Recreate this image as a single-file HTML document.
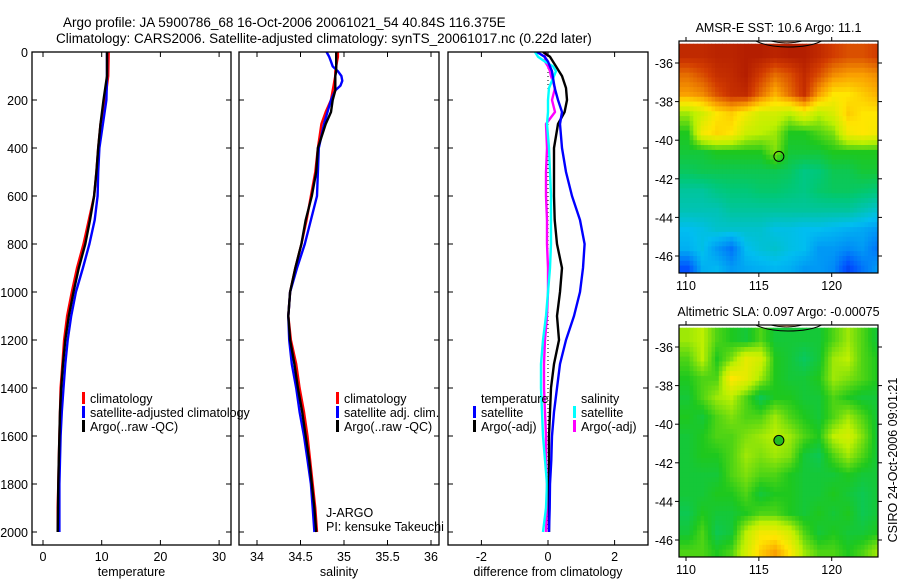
<!DOCTYPE html>
<html><head><meta charset="utf-8">
<style>
html,body{margin:0;padding:0;background:#fff;}
svg{display:block;font-family:"Liberation Sans",sans-serif;}
</style></head>
<body>
<svg id="fig" width="900" height="580" viewBox="0 0 900 580" xmlns="http://www.w3.org/2000/svg">
<text x="63" y="27" font-size="13.5">Argo profile: JA 5900786_68 16-Oct-2006 20061021_54 40.84S 116.375E</text>
<text x="56" y="43" font-size="13.5">Climatology: CARS2006. Satellite-adjusted climatology: synTS_20061017.nc (0.22d later)</text>
<g id="g1"></g>
<g id="g2"></g>
<g id="g3"></g>
<g id="m1"></g>
<g id="m2"></g>
<text transform="translate(897,460) rotate(-90)" text-anchor="middle" font-size="12.5">CSIRO 24-Oct-2006 09:01:21</text>
</svg>
<script>
// ---------- data ----------
const tDepth = [0,100,200,300,400,500,600,700,800,900,1000,1100,1200,1300,1400,1500,1600,1700,1800,1900,2000];
const tClim  = [11.2,11.1,10.6,9.8,9.4,9.1,8.7,7.8,6.9,5.8,4.9,4.1,3.6,3.3,3.0,2.9,2.8,2.7,2.6,2.5,2.5];
const tSat   = [10.9,10.9,10.8,10.2,9.6,9.4,9.3,8.8,7.9,6.8,5.6,4.8,4.2,3.8,3.5,3.2,3.0,2.9,2.8,2.8,2.8];
const tArgo  = [10.9,10.9,10.3,9.8,9.4,9.1,8.7,8.0,7.2,6.1,5.2,4.4,3.8,3.4,3.1,2.9,2.8,2.7,2.6,2.55,2.5];

const sDepth = [0,20,40,60,80,100,120,140,160,200,250,300,400,500,600,700,800,900,1000,1100,1200,1300,1400,1500,1600,1700,1800,1900,2000];
const sClim  = [34.93,34.93,34.92,34.91,34.9,34.9,34.89,34.88,34.87,34.85,34.79,34.74,34.70,34.67,34.62,34.57,34.51,34.44,34.38,34.36,34.39,34.45,34.49,34.54,34.58,34.61,34.64,34.67,34.69];
const sSat   = [34.80,34.83,34.85,34.87,34.93,34.97,34.98,34.96,34.90,34.85,34.81,34.77,34.71,34.70,34.69,34.62,34.55,34.46,34.38,34.36,34.37,34.40,34.45,34.49,34.54,34.58,34.62,34.64,34.66];
const sArgo  = [34.91,34.91,34.91,34.91,34.91,34.90,34.90,34.90,34.90,34.87,34.85,34.79,34.70,34.68,34.63,34.56,34.51,34.44,34.38,34.36,34.38,34.43,34.47,34.52,34.56,34.60,34.63,34.66,34.68];

const dDepth   = [0,20,40,60,80,100,150,200,250,300,400,500,600,700,800,900,1000,1100,1200,1300,1400,1500,1600,1700,1800,1900,2000];
const dTempSat = [-0.33,-0.1,0,0.06,0.12,0.14,0.2,0.3,0.42,0.36,0.42,0.54,0.72,0.96,1.1,1.05,0.96,0.78,0.54,0.36,0.27,0.18,0.12,0.1,0.06,0.05,0.03];
const dTempArgo= [-0.15,0.06,0.15,0.24,0.33,0.42,0.54,0.57,0.5,0.3,0.18,0.18,0.18,0.2,0.27,0.42,0.36,0.27,0.33,0.18,0.09,0.06,0.03,0.03,0.03,0.03,0.03];
const dSalSat  = [-0.39,-0.3,-0.09,0.15,0.24,0.18,0.03,0,0,-0.03,0.03,0.06,0.09,0.09,0.09,0.06,0,-0.06,-0.15,-0.21,-0.21,-0.18,-0.15,-0.09,-0.03,-0.06,-0.15];
const dSalArgo = [-0.06,-0.09,-0.09,0,0.06,0.09,0.21,0.12,0.21,-0.06,-0.03,-0.06,-0.06,-0.03,-0.03,0,0,-0.03,-0.09,-0.12,-0.12,-0.09,-0.06,-0.06,-0.03,-0.03,-0.06];

const depthTicks = [0,200,400,600,800,1000,1200,1400,1600,1800,2000];
const tempTicks = [0,10,20,30];
const salTicks = [34,34.5,35,35.5,36];
const diffTicks = [-2,0,2];
const lonTicks = [110,115,120];
const latTicks = [-36,-38,-40,-42,-44,-46];

const sstGrid = [
[0.93,0.93,0.94,0.94,0.95,0.95,0.94,0.95,0.95,0.93,0.9,0.88,0.88,0.9],
[0.85,0.88,0.92,0.93,0.95,0.9,0.85,0.88,0.93,0.88,0.82,0.8,0.8,0.82],
[0.8,0.82,0.88,0.92,0.93,0.85,0.78,0.85,0.92,0.8,0.72,0.72,0.75,0.78],
[0.6,0.65,0.72,0.75,0.7,0.65,0.65,0.62,0.68,0.62,0.66,0.75,0.72,0.72],
[0.52,0.7,0.74,0.72,0.64,0.62,0.6,0.52,0.52,0.55,0.58,0.7,0.72,0.7],
[0.5,0.5,0.52,0.52,0.52,0.52,0.58,0.5,0.5,0.5,0.52,0.52,0.52,0.52],
[0.47,0.48,0.48,0.48,0.48,0.48,0.48,0.47,0.44,0.45,0.48,0.48,0.5,0.5],
[0.42,0.42,0.44,0.45,0.45,0.46,0.46,0.45,0.44,0.46,0.47,0.47,0.46,0.45],
[0.4,0.4,0.4,0.42,0.42,0.42,0.42,0.42,0.42,0.42,0.42,0.42,0.4,0.38],
[0.35,0.36,0.38,0.38,0.38,0.38,0.36,0.36,0.35,0.35,0.34,0.33,0.32,0.3],
[0.33,0.36,0.3,0.25,0.35,0.37,0.38,0.36,0.35,0.3,0.3,0.28,0.3,0.25],
[0.2,0.33,0.34,0.3,0.32,0.33,0.34,0.33,0.3,0.3,0.28,0.18,0.25,0.3]];
const slaGrid = [
[0.6,0.62,0.55,0.52,0.5,0.55,0.5,0.5,0.5,0.5,0.55,0.6,0.55,0.5],
[0.55,0.62,0.52,0.58,0.68,0.65,0.52,0.5,0.47,0.5,0.6,0.62,0.55,0.52],
[0.52,0.55,0.55,0.72,0.68,0.6,0.52,0.5,0.5,0.52,0.6,0.58,0.55,0.52],
[0.5,0.55,0.6,0.62,0.55,0.48,0.52,0.52,0.5,0.5,0.55,0.52,0.5,0.5],
[0.52,0.5,0.55,0.58,0.55,0.55,0.6,0.55,0.52,0.5,0.55,0.6,0.55,0.5],
[0.5,0.52,0.55,0.55,0.58,0.6,0.62,0.6,0.55,0.52,0.62,0.65,0.58,0.5],
[0.5,0.52,0.52,0.55,0.6,0.58,0.6,0.58,0.5,0.48,0.55,0.6,0.55,0.5],
[0.5,0.5,0.5,0.55,0.58,0.55,0.55,0.52,0.5,0.5,0.5,0.52,0.5,0.5],
[0.5,0.5,0.52,0.52,0.55,0.5,0.52,0.52,0.5,0.5,0.52,0.5,0.48,0.5],
[0.48,0.52,0.5,0.5,0.52,0.55,0.55,0.52,0.5,0.52,0.5,0.52,0.48,0.5],
[0.5,0.55,0.48,0.5,0.62,0.7,0.7,0.65,0.55,0.5,0.52,0.5,0.5,0.52],
[0.55,0.55,0.52,0.55,0.65,0.75,0.8,0.72,0.6,0.55,0.55,0.52,0.55,0.6]];
const argoLon = 116.375, argoLat = -40.84;

// ---------- helpers ----------
const NS='http://www.w3.org/2000/svg';
function mk(parent,tag,attrs){const e=document.createElementNS(NS,tag);for(const k in attrs)e.setAttribute(k,attrs[k]);parent.appendChild(e);return e;}
function txt(parent,x,y,s,anchor,size){const t=mk(parent,'text',{x:x,y:y,'font-size':size||12.5,'text-anchor':anchor||'start'});t.textContent=s;return t;}
const Y0=52, Y1=545;
const yD = d => 52 + d*0.24;

function profilePanel(g,x0,x1,xs,ticks,tickFmt,label,series){
  const clip='c'+g.id;
  const cp=mk(g,'clipPath',{id:clip});mk(cp,'rect',{x:x0,y:Y0,width:x1-x0,height:Y1-Y0});
  series.forEach(s=>{
    const pts=s.v.map((v,i)=>xs(v).toFixed(1)+','+yD(s.depth[i]).toFixed(1)).join(' ');
    const p=mk(g,'polyline',{points:pts,fill:'none',stroke:s.c,'stroke-width':s.w||2.4,'stroke-linejoin':'round','clip-path':'url(#'+clip+')'});
    
    
  });
  const fr=mk(g,'rect',{x:x0,y:Y0,width:x1-x0,height:Y1-Y0,fill:'none',stroke:'#000','stroke-width':1.3});
  
  
  depthTicks.forEach(dv=>{const Yv=yD(dv);
    mk(g,'line',{x1:x0,x2:x0+5,y1:Yv,y2:Yv,stroke:'#000'});
    mk(g,'line',{x1:x1-5,x2:x1,y1:Yv,y2:Yv,stroke:'#000'});});
  ticks.forEach(tv=>{const X=xs(tv);
    mk(g,'line',{x1:X,x2:X,y1:Y0,y2:Y0+5,stroke:'#000'});
    mk(g,'line',{x1:X,x2:X,y1:Y1-5,y2:Y1,stroke:'#000'});
    const t=txt(g,X,561,tickFmt(tv),'middle');
    
    });
  const lb=txt(g,(x0+x1)/2,576,label,'middle');
  
  
}
function legend(g,x,y,entries){
  entries.forEach((e,i)=>{
    if(e.c){const r=mk(g,'rect',{x:x,y:y+i*14-11,width:3,height:12,fill:e.c});
      
      }
    const t=txt(g,x+8,y+i*14,e.t);
    
    
  });
}

const g1=document.getElementById('g1');
depthTicks.forEach(dv=>{const t=txt(g1,28,yD(dv)+5,String(dv),'end');
  
  });

const xT = v => 43 + v*5.87;
profilePanel(g1,32,231,xT,tempTicks,String,'temperature',[
  {v:tClim,depth:tDepth,c:'#ff0000',name:'temp-climatology-line'},
  {v:tSat,depth:tDepth,c:'#0000ff',name:'temp-satellite-line'},
  {v:tArgo,depth:tDepth,c:'#000000',name:'temp-argo-line'}]);
legend(g1,82,403,[{c:'#ff0000',t:'climatology'},{c:'#0000ff',t:'satellite-adjusted climatology'},{c:'#000',t:'Argo(..raw -QC)'}]);

const g2=document.getElementById('g2');
const xS = v => 257 + (v-34)*87;
profilePanel(g2,239,439,xS,salTicks,String,'salinity',[
  {v:sClim,depth:sDepth,c:'#ff0000',name:'sal-climatology-line'},
  {v:sSat,depth:sDepth,c:'#0000ff',name:'sal-satellite-line'},
  {v:sArgo,depth:sDepth,c:'#000000',name:'sal-argo-line'}]);
legend(g2,336,403,[{c:'#ff0000',t:'climatology'},{c:'#0000ff',t:'satellite adj. clim.'},{c:'#000',t:'Argo(..raw -QC)'}]);
let t1=txt(g2,326,517,'J-ARGO');
let t2=txt(g2,326,531,'PI: kensuke Takeuchi');

const g3=document.getElementById('g3');
const xDf = v => 548 + v*33.3;
const zl=mk(g3,'line',{x1:xDf(0),x2:xDf(0),y1:yD(0),y2:yD(2000),stroke:'#000','stroke-dasharray':'1 3'});


profilePanel(g3,448,648,xDf,diffTicks,String,'difference from climatology',[
  {v:dSalArgo,depth:dDepth,c:'#ff00ff',name:'sal-argo-diff-line'},
  {v:dSalSat,depth:dDepth,c:'#00ffff',name:'sal-satellite-diff-line'},
  {v:dTempArgo,depth:dDepth,c:'#000000',name:'temp-argo-diff-line'},
  {v:dTempSat,depth:dDepth,c:'#0000ff',name:'temp-satellite-diff-line'}]);
legend(g3,473,403,[{t:'temperature'},{c:'#0000ff',t:'satellite'},{c:'#000',t:'Argo(-adj)'}]);
legend(g3,573,403,[{t:'salinity'},{c:'#00ffff',t:'satellite'},{c:'#ff00ff',t:'Argo(-adj)'}]);

// ---------- maps ----------
function cmap(v){
  const stops=[[0,[0,0,140]],[0.2,[0,80,255]],[0.35,[0,190,240]],[0.45,[0,200,120]],[0.52,[30,200,30]],[0.62,[190,240,0]],[0.72,[255,230,0]],[0.8,[250,160,0]],[0.9,[210,60,0]],[1,[150,0,0]]];
  for(let i=1;i<stops.length;i++){if(v<=stops[i][0]){const a=stops[i-1],b=stops[i],f=(v-a[0])/(b[0]-a[0]);
    return 'rgb('+a[1].map((c,k)=>Math.round(c+(b[1][k]-c)*f)).join(',')+')';}}
  return 'rgb(150,0,0)';
}
function sample(grid,r,c){
  const R=grid.length,C=grid[0].length;
  r=Math.max(0,Math.min(R-1,r));c=Math.max(0,Math.min(C-1,c));
  const r0=Math.floor(r),c0=Math.floor(c),r1=Math.min(R-1,r0+1),c1=Math.min(C-1,c0+1),fr=r-r0,fc=c-c0;
  return grid[r0][c0]*(1-fr)*(1-fc)+grid[r0][c1]*(1-fr)*fc+grid[r1][c0]*fr*(1-fc)+grid[r1][c1]*fr*fc;
}
function mapPanel(id,top,bot,latRef,title,grid){
  const g=document.getElementById(id);
  const x0=679,x1=878;
  const lonX = lo => 686 + (lo-110)*14.57;
  const latY = la => latRef + (-36-la)*19.3;
  const cp=mk(g,'clipPath',{id:'c'+id});mk(cp,'rect',{x:x0,y:top,width:x1-x0,height:bot-top});
  const cg=mk(g,'g',{'clip-path':'url(#c'+id+')'});
  const step=0.25;
  for(let la=-35;la>-47.2;la-=step){
    for(let lo=109.5;lo<123.3;lo+=step){
      const r=(-35-la)-0.5, c=(lo-109.5)-0.5;
      const v=sample(grid,r,c);
      const rc=mk(cg,'rect',{x:lonX(lo).toFixed(1),y:latY(la).toFixed(1),width:(14.57*step+0.5).toFixed(2),height:(19.3*step+0.5).toFixed(2),fill:cmap(v)});
      
      
    }
  }
  const land=mk(cg,'path',{d:'M'+lonX(114.8)+' '+(top)+' Q'+lonX(115.6)+' '+(top+6)+' '+lonX(117)+' '+(top+6)+' Q'+lonX(118.5)+' '+(top+6)+' '+lonX(119.3)+' '+top,fill:'none',stroke:'#000','stroke-width':1});
  
  
  const land2=mk(cg,'path',{d:'M'+lonX(115.8)+' '+top+' Q'+lonX(116.9)+' '+(top+4)+' '+lonX(118.0)+' '+top+' Z',fill:'#f4b090',stroke:'#000','stroke-width':0.8});
  
  
  const mk1=mk(g,'circle',{cx:lonX(argoLon),cy:latY(argoLat),r:5,fill:id==='m2'?'#22bb22':'none',stroke:'#000','stroke-width':1});
  
  
  const fr=mk(g,'rect',{x:x0,y:top,width:x1-x0,height:bot-top,fill:'none',stroke:'#000','stroke-width':1.2});
  
  
  latTicks.forEach(la=>{const Yv=latY(la);
    mk(g,'line',{x1:x0-4,x2:x0,y1:Yv,y2:Yv,stroke:'#000'});
    mk(g,'line',{x1:x1,x2:x1+4,y1:Yv,y2:Yv,stroke:'#000'});
    const t=txt(g,673,Yv+5,String(la),'end');
    
    });
  lonTicks.forEach(lo=>{const X=lonX(lo);
    mk(g,'line',{x1:X,x2:X,y1:top-4,y2:top,stroke:'#000'});
    mk(g,'line',{x1:X,x2:X,y1:bot,y2:bot+4,stroke:'#000'});
    const t=txt(g,X,bot+17,String(lo),'middle');
    
    });
  const tt=txt(g,(x0+x1)/2,top-9,title,'middle');
  
  
}
mapPanel('m1',41,273,63,'AMSR-E SST: 10.6 Argo: 11.1',sstGrid);
mapPanel('m2',325,557,347,'Altimetric SLA: 0.097 Argo: -0.00075',slaGrid);
</script>
</body></html>
